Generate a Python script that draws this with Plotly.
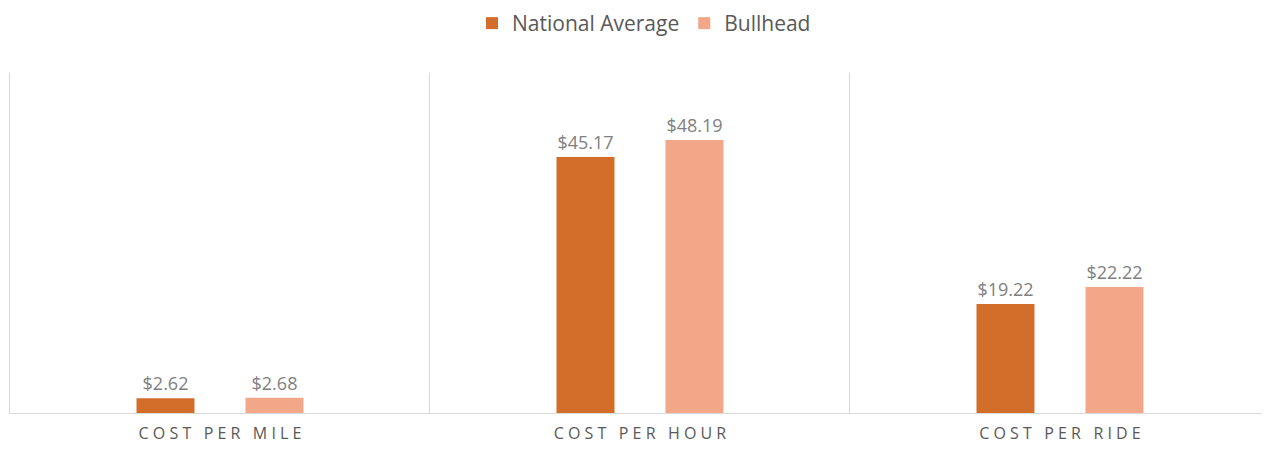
import plotly.graph_objects as go

categories = ["Cost per Mile", "Cost per Hour", "Cost per Ride"]
national_average = [2.62, 45.17, 19.22]
bullhead = [2.68, 48.19, 22.22]
series_names = ["National Average", "Bullhead"]
colors = ["#D26E2A", "#F1A788"]

NB = "\u00a0"
def spaced(label):
    return (NB * 3).join(NB.join(w) for w in label.upper().split(" "))

tick_labels = [spaced(c) for c in categories]

fig = go.Figure()
for name, vals, col in zip(series_names, [national_average, bullhead], colors):
    fig.add_trace(go.Bar(
        x=tick_labels, y=vals, name=name, marker_color=col,
        marker_line_width=0,
        texttemplate="$%{y:.2f}", textposition="outside",
        textfont=dict(color="#808080", size=18, family="Open Sans"),
        cliponaxis=False,
    ))

# page body has an 8px margin; figure sized to fit the 1270x452 window
fig.update_layout(
    width=1254, height=436,
    margin=dict(l=2, r=0, t=65, b=31, autoexpand=False),
    paper_bgcolor="white", plot_bgcolor="white",
    barmode="group", bargap=0.481, bargroupgap=0.468,
    font=dict(family="Open Sans", color="#595959"),
    legend=dict(orientation="h", x=0.5064, xanchor="center", y=1.206, yanchor="top",
                font=dict(size=21, color="#595959"), itemwidth=30, traceorder="normal"),
    showlegend=True,
)
fig.update_xaxes(type="category", tickson="boundaries", range=[-0.5, 2.481],
                 showgrid=True, gridcolor="#d9d9d9", automargin=False,
                 gridwidth=1, ticks="", ticklabelstandoff=6,
                 showline=True, linecolor="#d9d9d9", linewidth=1,
                 tickfont=dict(size=16, color="#595959"))
fig.update_yaxes(range=[0, 60], showgrid=False, showticklabels=False, zeroline=False,
                 automargin=False,
                 showline=True, linecolor="#d9d9d9", linewidth=1, ticks="")

fig.write_html("out.html")
